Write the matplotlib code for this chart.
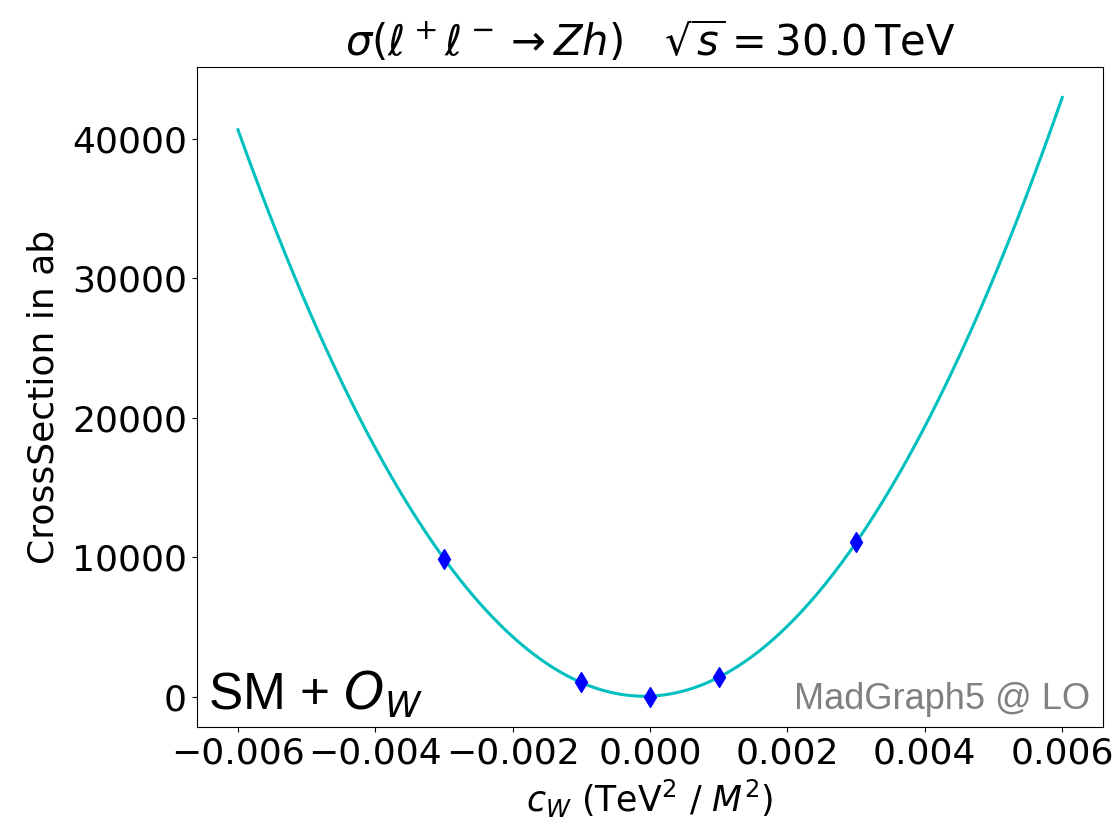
import numpy as np
import matplotlib.pyplot as plt

plt.rcParams['font.family'] = ['DejaVu Sans']

# MadGraph5 cross sections for l+ l- -> Zh at 30 TeV, varying c_W
cw = [-0.003, -0.001, 0.0, 0.001, 0.003]
xsec = [9900, 1050, 0, 1410, 11070]   # ab

# quadratic fit through the points
coef = np.polyfit(cw, xsec, 2)
xfit = np.linspace(-0.006, 0.006, 300)
yfit = np.polyval(coef, xfit)

fig = plt.figure(figsize=(11.18, 8.23), dpi=100)
ax = fig.add_axes([0.176, 0.117, 0.811, 0.801])

ax.plot(xfit, yfit, color='c', lw=2.2)
ax.plot(cw, xsec, 'bd', ms=10)

ax.set_title(r'$\sigma(\ell^+\ell^- \to Zh)\quad\sqrt{s} = 30.0\,\mathrm{TeV}$', fontsize=30, pad=8)
ax.set_xlabel(r'$c_W$ (TeV$^2$ / $M^2$)', fontsize=25, labelpad=5)
ax.set_ylabel('CrossSection in ab', fontsize=26, labelpad=8)
ax.tick_params(labelsize=26)
ax.set_xticks([-0.006, -0.004, -0.002, 0.0, 0.002, 0.004, 0.006])
ax.set_yticks([0, 10000, 20000, 30000, 40000])

ax.text(0.012, 0.01, r'SM + $O_W$', transform=ax.transAxes, fontsize=37,
        family='Liberation Sans', va='bottom', ha='left')
ax.text(0.985, 0.015, 'MadGraph5 @ LO', transform=ax.transAxes, fontsize=26,
        family='Liberation Sans', color='gray', va='bottom', ha='right')

plt.savefig('out.png', dpi=100)
